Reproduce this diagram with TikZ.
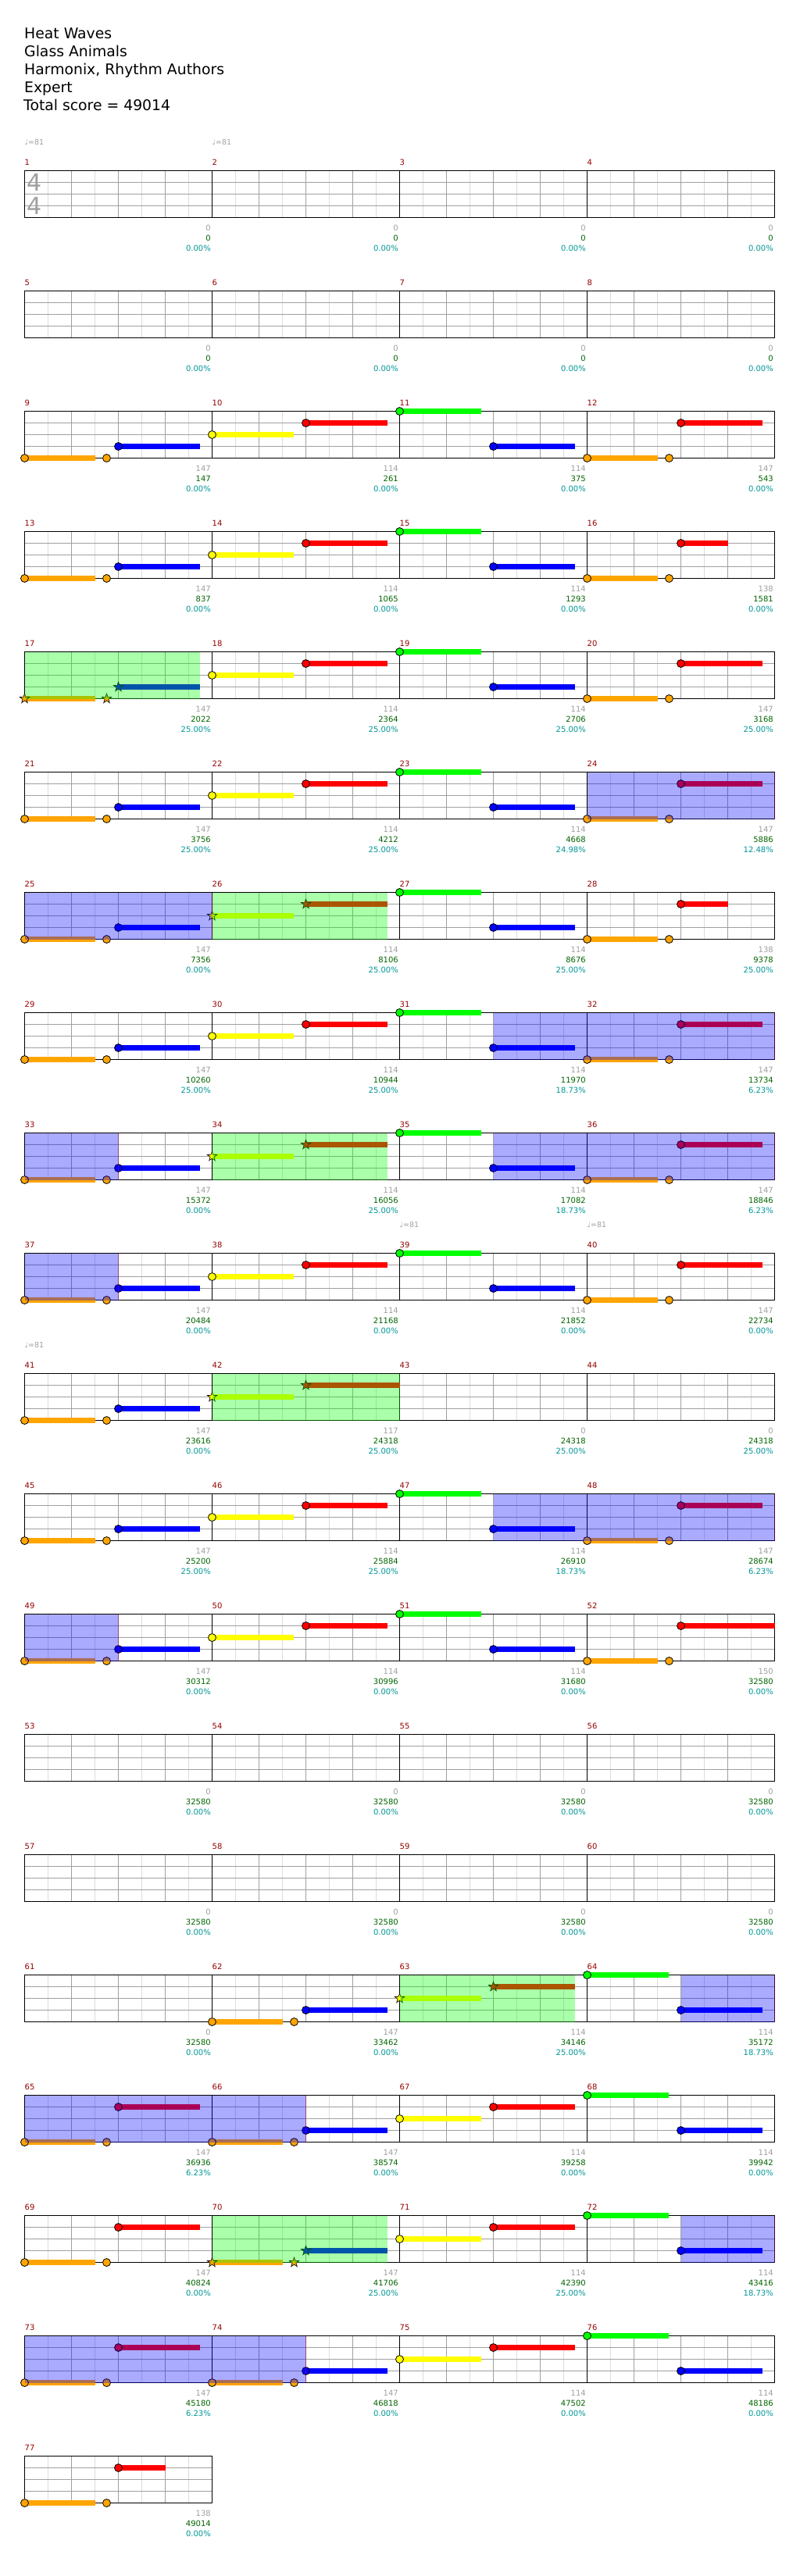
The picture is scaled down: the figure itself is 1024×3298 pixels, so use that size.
\documentclass[tikz,border=0pt]{standalone}
\usepackage{fontspec}
\setmainfont{DejaVu Sans}
\definecolor{ln0}{RGB}{0,255,0}
\definecolor{ln1}{RGB}{255,0,0}
\definecolor{ln2}{RGB}{255,255,0}
\definecolor{ln3}{RGB}{0,0,255}
\definecolor{ln4}{RGB}{255,165,0}
\definecolor{mred}{RGB}{150,0,0}
\definecolor{sgray}{RGB}{160,160,160}
\definecolor{sgreen}{RGB}{0,100,0}
\definecolor{steal}{RGB}{0,150,150}
\definecolor{lgridc}{RGB}{220,220,220}
\definecolor{dgridc}{RGB}{160,160,160}
\tikzset{
  lgrid/.style={lgridc,line width=1pt},
  dgrid/.style={dgridc,line width=1pt},
  tnum/.style={inner sep=0pt,font=\fontsize{10}{10}\selectfont},
  mnum/.style={tnum,text=mred,anchor=base west},
  gnum/.style={tnum,text=sgray,anchor=base east},
  snum/.style={tnum,text=sgreen,anchor=base east},
  pnum/.style={tnum,text=steal,anchor=base east},
  ttl/.style={inner sep=0pt,anchor=base west,font=\fontsize{18.8}{20}\selectfont},
  tsig/.style={inner sep=0pt,text=sgray,font=\fontsize{30}{30}\selectfont},
  tempo/.style={inner sep=0pt,anchor=base west,text=sgray,font=\fontsize{9.5}{10}\selectfont},
}
\newcommand\staffrow[3]{%
  \pgfmathsetmacro\rowT{218.5+154*#1}%
  \pgfmathsetmacro\rowR{31.5+240*#2}%
  \pgfmathtruncatemacro\nlg{8*#2-1}%
  \foreach \i in {1,3,...,\nlg} \draw[lgrid] ({31.5+30*\i},\rowT) -- ++(0,60);
  \pgfmathtruncatemacro\ndg{4*#2-1}%
  \foreach \i in {1,...,\ndg} \draw[dgrid] ({31.5+60*\i},\rowT) -- ++(0,60);
  \foreach \k in {1,2,3} \draw[dgrid] (31.5,{\rowT+15*\k}) -- (\rowR,{\rowT+15*\k});
  \pgfmathtruncatemacro\nbr{#2-1}%
  \ifnum\nbr>0 \foreach \i in {1,...,\nbr} \draw[black,line width=1pt] ({31.5+240*\i},\rowT) -- ++(0,60);\fi
  \draw[black,line width=1.2pt] (31.5,\rowT) rectangle (\rowR,{\rowT+60});
  \foreach \i in {0,...,\nbr} {\pgfmathtruncatemacro\mnr{#3+\i}\node[mnum] at ({31.5+240*\i},{\rowT-7}) {\mnr};}
}
% row, col, pos, lane, sustain length, star
\newcommand\gnote[6]{%
  \pgfmathsetmacro\gnx{31.5+240*#2+#3}%
  \pgfmathsetmacro\gny{218.5+154*#1+15*#4}%
  \ifdim #5pt>0pt \fill[ln#4] (\gnx,{\gny-3.5}) rectangle ({\gnx+#5},{\gny+3.5});\fi
  \ifnum #6=0
    \filldraw[fill=ln#4,draw=black,line width=0.8pt] (\gnx,\gny) circle (5pt);
  \else
    \filldraw[fill=ln#4,draw=black,line width=0.6pt] (\gnx,\gny) +(90:6.5pt) -- +(126:2.6pt) -- +(162:6.5pt) -- +(198:2.6pt) -- +(234:6.5pt) -- +(270:2.6pt) -- +(306:6.5pt) -- +(342:2.6pt) -- +(18:6.5pt) -- +(54:2.6pt) -- cycle;
  \fi}
\newcommand\ornp[3]{\gnote{#1}{#2}{0}{4}{90}{#3}\gnote{#1}{#2}{105}{4}{0}{#3}}
\newcommand\stdrow[2]{%
  \ornp{#1}{0}{0}\gnote{#1}{0}{120}{3}{104}{0}%
  \gnote{#1}{1}{0}{2}{104}{0}\gnote{#1}{1}{120}{1}{104}{0}%
  \gnote{#1}{2}{0}{0}{104}{0}\gnote{#1}{2}{120}{3}{104}{0}%
  \ornp{#1}{3}{0}\gnote{#1}{3}{120}{1}{#2}{0}}
\newcommand\spov[3]{\pgfmathsetmacro\rowT{218.5+154*#1}%
  \fill[green,opacity=0.3333] (#2,\rowT) rectangle (#3,{\rowT+60});}
\newcommand\odov[3]{\pgfmathsetmacro\rowT{218.5+154*#1}%
  \fill[blue,opacity=0.3333] (#2,\rowT) rectangle (#3,{\rowT+60});
  \draw[red,opacity=0.3333,line width=1pt] (#3,\rowT) -- (#3,{\rowT+60});}
\newcommand\scr[5]{%
  \pgfmathsetmacro\scx{31.5+240*(#2+1)-1.5}%
  \pgfmathsetmacro\scy{218.5+154*#1+60}%
  \node[gnum] at (\scx,{\scy+17}) {#3};
  \node[snum] at (\scx,{\scy+30}) {#4};
  \node[pnum] at (\scx,{\scy+43}) {#5\%};}
\newcommand\tmark[2]{\pgfmathsetmacro\rowT{218.5+154*#1}%
  \node[tempo] at ({31.5+240*#2},{\rowT-33}) {♩=81};}
\begin{document}
\begin{tikzpicture}[x=1pt,y=-1pt]
\fill[white] (0,0) rectangle (1024,3298);
\useasboundingbox (0,0) rectangle (1024,3298);
% title
\node[ttl] (t1) at (31,49.3) {Heat Waves};
\node[ttl] (t2) at (31,72.3) {Glass Animals};
\node[ttl] (t3) at (31,95.3) {Harmonix, Rhythm Authors};
\node[ttl] (t4) at (31,118.3) {Expert};
\node[ttl] (t5) at (30,141.3) {Total score = 49014};
% staffs
\foreach \r in {0,...,18} {\pgfmathtruncatemacro\fm{1+4*\r}\staffrow{\r}{4}{\fm}}
\staffrow{19}{1}{77}
\node[tsig] (ts1) at (44,233.5) {4};
\node[tsig] (ts2) at (44,263.5) {4};
% tempo marks
\tmark{0}{0}\tmark{0}{1}\tmark{9}{2}\tmark{9}{3}\tmark{10}{0}
% notes
\stdrow{2}{104}
\stdrow{3}{60}
% row 4 (m17)
\ornp{4}{0}{1}\gnote{4}{0}{120}{3}{104}{1}%
\gnote{4}{1}{0}{2}{104}{0}\gnote{4}{1}{120}{1}{104}{0}%
\gnote{4}{2}{0}{0}{104}{0}\gnote{4}{2}{120}{3}{104}{0}%
\ornp{4}{3}{0}\gnote{4}{3}{120}{1}{104}{0}
\stdrow{5}{104}
% row 6 (m25)
\ornp{6}{0}{0}\gnote{6}{0}{120}{3}{104}{0}%
\gnote{6}{1}{0}{2}{104}{1}\gnote{6}{1}{120}{1}{104}{1}%
\gnote{6}{2}{0}{0}{104}{0}\gnote{6}{2}{120}{3}{104}{0}%
\ornp{6}{3}{0}\gnote{6}{3}{120}{1}{60}{0}
\stdrow{7}{104}
% row 8 (m33)
\ornp{8}{0}{0}\gnote{8}{0}{120}{3}{104}{0}%
\gnote{8}{1}{0}{2}{104}{1}\gnote{8}{1}{120}{1}{104}{1}%
\gnote{8}{2}{0}{0}{104}{0}\gnote{8}{2}{120}{3}{104}{0}%
\ornp{8}{3}{0}\gnote{8}{3}{120}{1}{104}{0}
\stdrow{9}{104}
% row 10 (m41)
\ornp{10}{0}{0}\gnote{10}{0}{120}{3}{104}{0}%
\gnote{10}{1}{0}{2}{104}{1}\gnote{10}{1}{120}{1}{120}{1}
\stdrow{11}{104}
\stdrow{12}{120}
% row 15 (m61)
\ornp{15}{1}{0}\gnote{15}{1}{120}{3}{104}{0}%
\gnote{15}{2}{0}{2}{104}{1}\gnote{15}{2}{120}{1}{104}{1}%
\gnote{15}{3}{0}{0}{104}{0}\gnote{15}{3}{120}{3}{104}{0}
% row 16 (m65)
\ornp{16}{0}{0}\gnote{16}{0}{120}{1}{104}{0}%
\ornp{16}{1}{0}\gnote{16}{1}{120}{3}{104}{0}%
\gnote{16}{2}{0}{2}{104}{0}\gnote{16}{2}{120}{1}{104}{0}%
\gnote{16}{3}{0}{0}{104}{0}\gnote{16}{3}{120}{3}{104}{0}
% row 17 (m69)
\ornp{17}{0}{0}\gnote{17}{0}{120}{1}{104}{0}%
\ornp{17}{1}{1}\gnote{17}{1}{120}{3}{104}{1}%
\gnote{17}{2}{0}{2}{104}{0}\gnote{17}{2}{120}{1}{104}{0}%
\gnote{17}{3}{0}{0}{104}{0}\gnote{17}{3}{120}{3}{104}{0}
% row 18 (m73)
\ornp{18}{0}{0}\gnote{18}{0}{120}{1}{104}{0}%
\ornp{18}{1}{0}\gnote{18}{1}{120}{3}{104}{0}%
\gnote{18}{2}{0}{2}{104}{0}\gnote{18}{2}{120}{1}{104}{0}%
\gnote{18}{3}{0}{0}{104}{0}\gnote{18}{3}{120}{3}{104}{0}
% row 19 (m77)
\ornp{19}{0}{0}\gnote{19}{0}{120}{1}{60}{0}
% star power overlays
\spov{4}{31.5}{255.5}
\spov{6}{271.5}{495.5}
\spov{8}{271.5}{495.5}
\spov{10}{271.5}{511.5}
\spov{15}{511.5}{735.5}
\spov{17}{271.5}{495.5}
% overdrive overlays
\odov{5}{751.5}{991.5}
\odov{6}{31.5}{271.5}
\odov{7}{631.5}{991.5}
\odov{8}{31.5}{151.5}
\odov{8}{631.5}{991.5}
\odov{9}{31.5}{151.5}
\odov{11}{631.5}{991.5}
\odov{12}{31.5}{151.5}
\odov{15}{871.5}{991.5}
\odov{16}{31.5}{391.5}
\odov{17}{871.5}{991.5}
\odov{18}{31.5}{391.5}
% scores
\foreach \r in {0,1} {\foreach \c in {0,...,3} {\scr{\r}{\c}{0}{0}{0.00}}}
\scr{2}{0}{147}{147}{0.00}\scr{2}{1}{114}{261}{0.00}\scr{2}{2}{114}{375}{0.00}\scr{2}{3}{147}{543}{0.00}
\scr{3}{0}{147}{837}{0.00}\scr{3}{1}{114}{1065}{0.00}\scr{3}{2}{114}{1293}{0.00}\scr{3}{3}{138}{1581}{0.00}
\scr{4}{0}{147}{2022}{25.00}\scr{4}{1}{114}{2364}{25.00}\scr{4}{2}{114}{2706}{25.00}\scr{4}{3}{147}{3168}{25.00}
\scr{5}{0}{147}{3756}{25.00}\scr{5}{1}{114}{4212}{25.00}\scr{5}{2}{114}{4668}{24.98}\scr{5}{3}{147}{5886}{12.48}
\scr{6}{0}{147}{7356}{0.00}\scr{6}{1}{114}{8106}{25.00}\scr{6}{2}{114}{8676}{25.00}\scr{6}{3}{138}{9378}{25.00}
\scr{7}{0}{147}{10260}{25.00}\scr{7}{1}{114}{10944}{25.00}\scr{7}{2}{114}{11970}{18.73}\scr{7}{3}{147}{13734}{6.23}
\scr{8}{0}{147}{15372}{0.00}\scr{8}{1}{114}{16056}{25.00}\scr{8}{2}{114}{17082}{18.73}\scr{8}{3}{147}{18846}{6.23}
\scr{9}{0}{147}{20484}{0.00}\scr{9}{1}{114}{21168}{0.00}\scr{9}{2}{114}{21852}{0.00}\scr{9}{3}{147}{22734}{0.00}
\scr{10}{0}{147}{23616}{0.00}\scr{10}{1}{117}{24318}{25.00}\scr{10}{2}{0}{24318}{25.00}\scr{10}{3}{0}{24318}{25.00}
\scr{11}{0}{147}{25200}{25.00}\scr{11}{1}{114}{25884}{25.00}\scr{11}{2}{114}{26910}{18.73}\scr{11}{3}{147}{28674}{6.23}
\scr{12}{0}{147}{30312}{0.00}\scr{12}{1}{114}{30996}{0.00}\scr{12}{2}{114}{31680}{0.00}\scr{12}{3}{150}{32580}{0.00}
\foreach \r in {13,14} {\foreach \c in {0,...,3} {\scr{\r}{\c}{0}{32580}{0.00}}}
\scr{15}{0}{0}{32580}{0.00}\scr{15}{1}{147}{33462}{0.00}\scr{15}{2}{114}{34146}{25.00}\scr{15}{3}{114}{35172}{18.73}
\scr{16}{0}{147}{36936}{6.23}\scr{16}{1}{147}{38574}{0.00}\scr{16}{2}{114}{39258}{0.00}\scr{16}{3}{114}{39942}{0.00}
\scr{17}{0}{147}{40824}{0.00}\scr{17}{1}{147}{41706}{25.00}\scr{17}{2}{114}{42390}{25.00}\scr{17}{3}{114}{43416}{18.73}
\scr{18}{0}{147}{45180}{6.23}\scr{18}{1}{147}{46818}{0.00}\scr{18}{2}{114}{47502}{0.00}\scr{18}{3}{114}{48186}{0.00}
\scr{19}{0}{138}{49014}{0.00}
\end{tikzpicture}
\end{document}
